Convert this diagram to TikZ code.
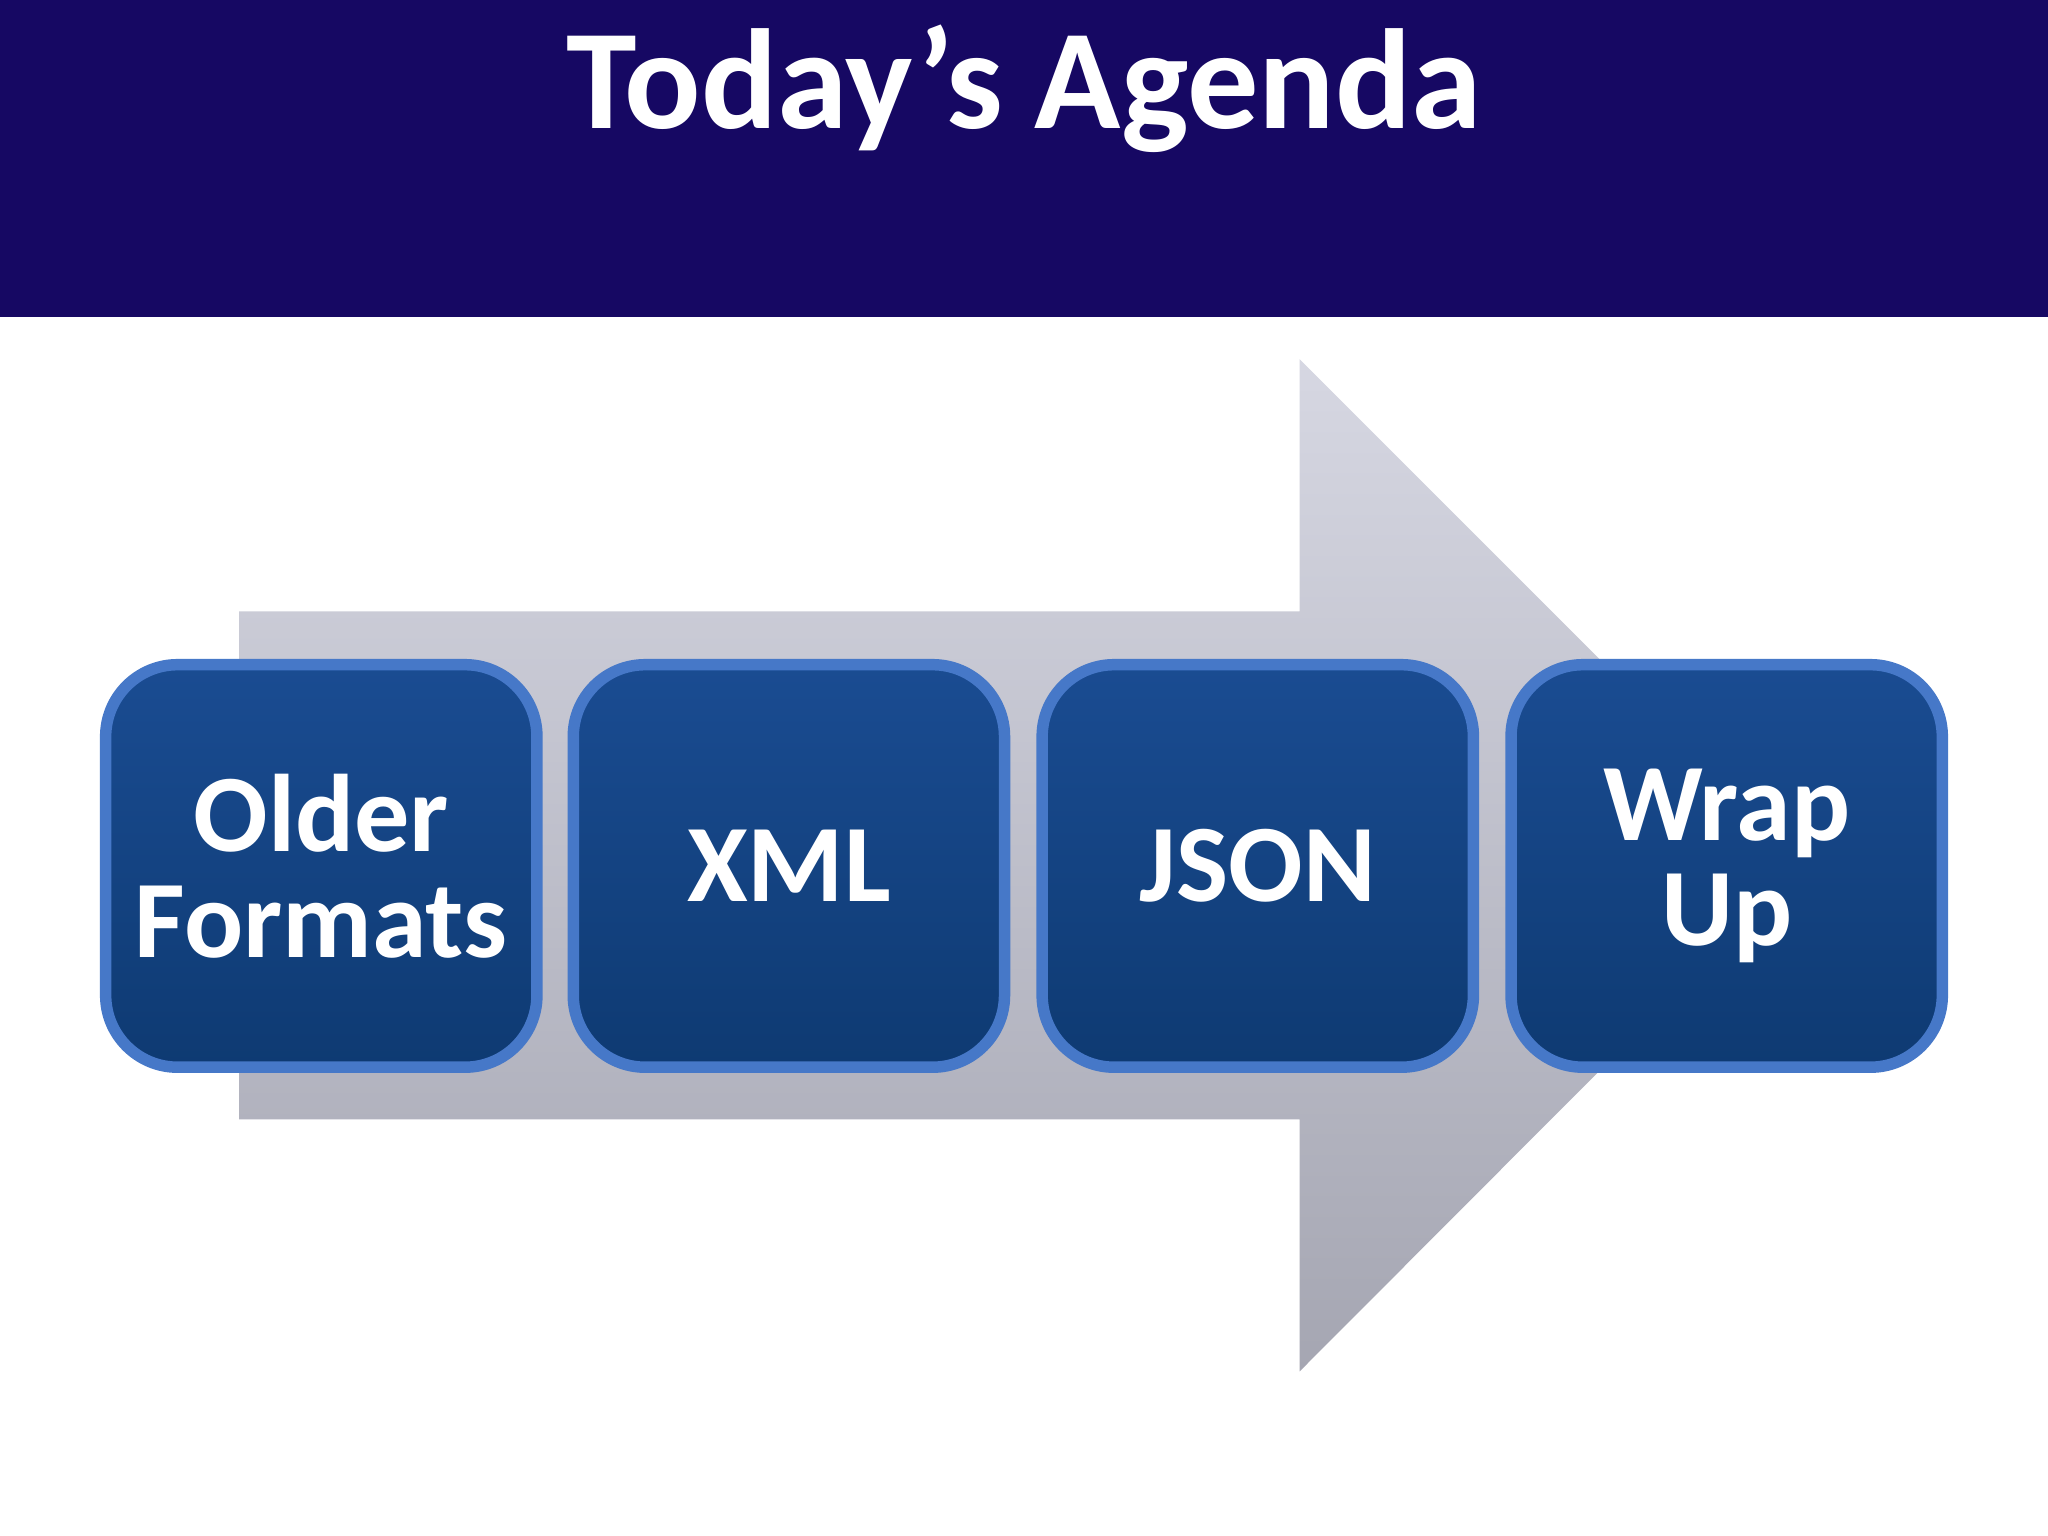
\documentclass[tikz,border=0pt]{standalone}
\usepackage{fontspec}
\setmainfont{Carlito}
\definecolor{hdr}{RGB}{22,8,99}
\definecolor{arT}{RGB}{214,215,226}
\definecolor{arB}{RGB}{165,166,178}
\definecolor{bxT}{RGB}{26,76,146}
\definecolor{bxB}{RGB}{14,58,114}
\definecolor{bxE}{RGB}{70,120,200}
\begin{document}
\begin{tikzpicture}[x=0.01cm,y=-0.01cm,
  box/.style={draw=bxE, line width=2.5pt, rounded corners=0.55cm,
    top color=bxT, bottom color=bxB,
    minimum width=3.3cm, minimum height=3.08cm, text=white, font=\fontsize{24}{25}\selectfont\bfseries, align=center}]
\useasboundingbox (0,0) rectangle (1568,1176);
\fill[white] (0,0) rectangle (1568,1176);
\fill[hdr] (0,0) rectangle (1568,243);
\node[text=white, font=\fontsize{31}{33}\selectfont\bfseries] (title) at (784,68) {Today’s Agenda};
\shade[top color=arT, bottom color=arB]
  (183,468) -- (995,468) -- (995,275) -- (1382,662) -- (995,1050) -- (995,857) -- (183,857) -- cycle;
\node[box] (a) at (246,663) {Older\\[-2pt]Formats};
\node[box] (b) at (604,663) {XML};
\node[box] (c) at (963,663) {JSON};
\node[box] (d) at (1322,663) {Wrap\\[-2pt]Up};
\end{tikzpicture}
\end{document}
